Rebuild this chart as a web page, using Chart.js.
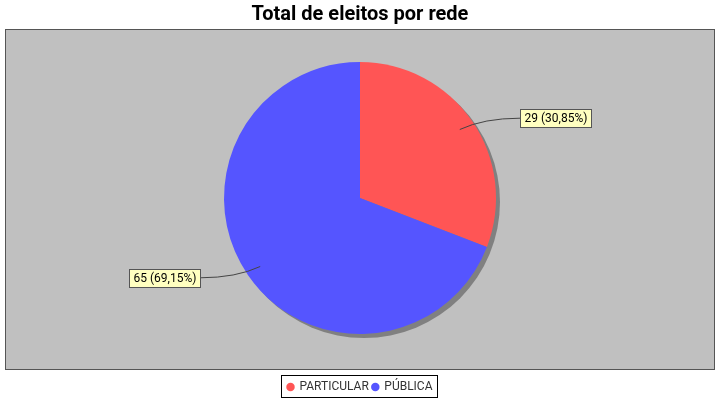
<!DOCTYPE html>
<html>
<head>
<meta charset="utf-8">
<script src="https://cdn.jsdelivr.net/npm/chart.js@4"></script>
<style>
  html, body { margin: 0; padding: 0; background: #fff; }
  #wrap { width: 720px; height: 400px; }
</style>
</head>
<body>
<div id="wrap"><canvas id="myChart" width="720" height="400"></canvas></div>
<script>
const categories = ['PARTICULAR', 'PÚBLICA'];
const eleitos = [29, 65];
const sliceColors = ['#FF5555', '#5555FF'];
const chartTitle = 'Total de eleitos por rede';

const total = eleitos.reduce((a, b) => a + b, 0);
function labelText(v) {
  return v + ' (' + (v / total * 100).toFixed(2).replace('.', ',') + '%)';
}

// plot background, border and pie shadow (jfreechart look)
const plotBox = {
  id: 'plotBox',
  beforeDatasetsDraw(chart) {
    const c = chart.ctx;
    c.save();
    c.fillStyle = '#C0C0C0';
    c.fillRect(5, 29, 709, 340);
    c.strokeStyle = '#555555';
    c.lineWidth = 1;
    c.strokeRect(5.5, 29.5, 709, 340);
    const arc = chart.getDatasetMeta(0).data[0];
    if (arc) {
      c.fillStyle = '#808080';
      c.beginPath();
      c.arc(arc.x + 4, arc.y + 4, arc.outerRadius, 0, Math.PI * 2);
      c.fill();
    }
    c.restore();
  },
  afterDatasetsDraw(chart) {
    const c = chart.ctx;
    const meta = chart.getDatasetMeta(0);
    c.save();
    c.font = '12px Roboto';
    c.textBaseline = 'middle';
    meta.data.forEach((arc, i) => {
      const mid = (arc.startAngle + arc.endAngle) / 2;
      const r = arc.outerRadius;
      const ax = arc.x + Math.cos(mid) * r * 0.89;
      const ay = arc.y + Math.sin(mid) * r * 0.89;
      const ly = arc.y + Math.sin(mid) * (r + 5);
      const txt = labelText(eleitos[i]);
      const w = Math.round(c.measureText(txt).width + 8);
      const h = 18;
      const right = Math.cos(mid) >= 0;
      const edgeX = right ? arc.x + r + 24 : arc.x - r - 24;
      const bx = Math.round(right ? edgeX : edgeX - w);
      const by = Math.round(ly - h / 2);
      // leader line
      c.strokeStyle = '#444444';
      c.lineWidth = 1;
      c.beginPath();
      c.moveTo(ax, ay);
      c.quadraticCurveTo(ax + (edgeX - ax) * 0.4, ly, edgeX, ly);
      c.stroke();
      // label box
      c.fillStyle = '#FFFFC0';
      c.fillRect(bx + 0.5, by + 0.5, w, h);
      c.strokeStyle = '#555555';
      c.strokeRect(bx + 0.5, by + 0.5, w, h);
      c.fillStyle = '#000000';
      c.fillText(txt, bx + 4.5, by + h / 2 + 1);
    });
    c.restore();
  },
  afterDraw(chart) {
    const boxes = chart.legend && chart.legend.legendHitBoxes;
    if (!boxes || !boxes.length) return;
    const first = boxes[0], last = boxes[boxes.length - 1];
    const c = chart.ctx;
    c.save();
    c.strokeStyle = '#000000';
    c.lineWidth = 1;
    const x0 = Math.round(first.left) - 5.5;
    const x1 = Math.round(last.left + last.width) + 4.5;
    const y0 = Math.round(first.top + first.height / 2) - 11.5;
    c.strokeRect(x0, y0, x1 - x0, 22);
    c.restore();
  }
};

new Chart(document.getElementById('myChart'), {
  type: 'pie',
  data: {
    labels: categories,
    datasets: [{
      data: eleitos,
      backgroundColor: sliceColors,
      borderWidth: 0,
      radius: 136
    }]
  },
  options: {
    responsive: false,
    animation: false,
    layout: { padding: 0 },
    plugins: {
      title: {
        display: true,
        text: chartTitle,
        color: '#000',
        font: { family: 'Roboto', size: 20, weight: 'bold', lineHeight: 0.3 },
        padding: { top: 12, bottom: 0.5 }
      },
      legend: {
        position: 'bottom',
        maxHeight: 22.5,
        labels: {
          usePointStyle: true,
          pointStyle: 'circle',
          boxWidth: 6,
          boxHeight: 6,
          padding: 3.5,
          color: '#333333',
          font: { family: 'Roboto', size: 12 }
        }
      },
      tooltip: { enabled: false }
    }
  },
  plugins: [plotBox]
});
</script>
</body>
</html>
